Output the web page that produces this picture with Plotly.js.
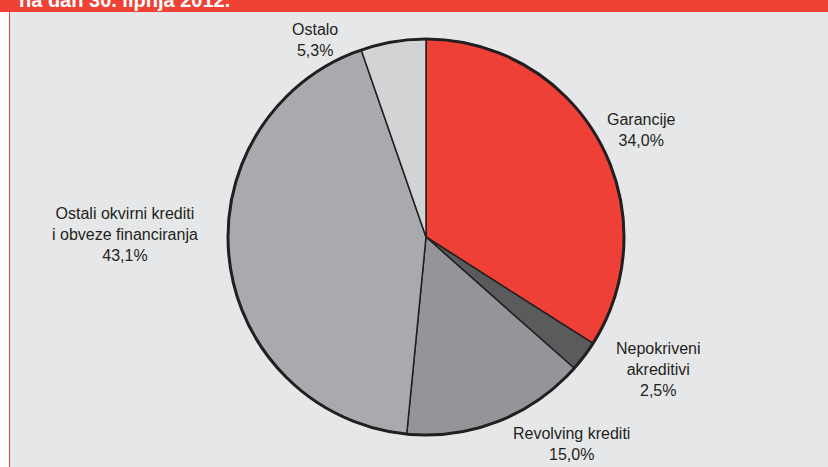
<!DOCTYPE html>
<html>
<head>
<meta charset="utf-8">
<script src="https://cdn.plot.ly/plotly-3.0.1.min.js"></script>
<style>html,body{margin:0;padding:0;background:#fff;}#chart{width:828px;height:467px;}</style>
</head>
<body>
<div id="chart"></div>
<script>
// Data
const categories = ["Garancije", "Nepokriveni akreditivi", "Revolving krediti", "Ostali okvirni krediti i obveze financiranja", "Ostalo"];
const labelLines = ["Garancije", "Nepokriveni<br>akreditivi", "Revolving krediti", "Ostali okvirni krediti<br>i obveze financiranja", "Ostalo"];
const shares = [34.0, 2.5, 15.0, 43.1, 5.3];
const sliceColors = ["#ee4036", "#5a5b5d", "#939598", "#a8aaad", "#d1d3d4"];
const titleText = "na dan 30. lipnja 2012.";

// Label positions (pixels in 828x467 frame)
const W = 828, H = 467;
const labelPos = [[641, 130], [658, 369], [571, 444], [125, 234], [315, 40]];

const fmt = v => v.toFixed(1).replace('.', ',') + '%';

const annotations = categories.map((c, i) => ({
  text: labelLines[i] + '<br>' + fmt(shares[i]),
  x: labelPos[i][0] / W, y: 1 - labelPos[i][1] / H,
  xref: 'paper', yref: 'paper', xanchor: 'center', yanchor: 'middle',
  showarrow: false, align: 'center',
  font: {family: 'Liberation Sans, Arial, sans-serif', size: 16, color: '#231f20'}
}));
annotations.push({
  text: '<b>' + titleText + '</b>',
  x: 18 / W, y: 1 - 12 / H, xref: 'paper', yref: 'paper',
  xanchor: 'left', yanchor: 'bottom', showarrow: false, borderpad: 0,
  font: {family: 'Liberation Sans, Arial, sans-serif', size: 20, color: '#ffffff'}
});

const cx = 426, cy = 237, r = 198;
const dom = {x: [(cx - r) / W, (cx + r) / W], y: [1 - (cy + r) / H, 1 - (cy - r) / H]};

const trace = {
  type: 'pie', labels: categories, values: shares, sort: false,
  direction: 'clockwise', rotation: 0, textinfo: 'none', hoverinfo: 'label+percent',
  marker: {colors: sliceColors, line: {color: '#231f20', width: 1.5}},
  domain: dom, showlegend: false
};

const layout = {
  width: W, height: H, margin: {l: 0, r: 0, t: 0, b: 0},
  paper_bgcolor: '#e6e7e8', plot_bgcolor: '#e6e7e8',
  showlegend: false,
  shapes: [
    {type: 'rect', xref: 'paper', yref: 'paper', x0: 0, x1: 1, y0: 1 - 12 / H, y1: 1, fillcolor: '#ef4136', line: {width: 0}, layer: 'below'},
    {type: 'rect', xref: 'paper', yref: 'paper', x0: 0, x1: 9 / W, y0: 0, y1: 1 - 12 / H, fillcolor: '#ffffff', line: {width: 0}, layer: 'below'},
    {type: 'line', xref: 'paper', yref: 'paper', x0: 9.5 / W, x1: 9.5 / W, y0: 0, y1: 1 - 12 / H, line: {color: '#ef4136', width: 1}, layer: 'below'},
    {type: 'circle', xref: 'paper', yref: 'paper', x0: dom.x[0], x1: dom.x[1], y0: dom.y[0], y1: dom.y[1], line: {color: '#231f20', width: 3}, layer: 'above'}
  ],
  annotations: annotations
};

Plotly.newPlot('chart', [trace], layout, {displayModeBar: false, staticPlot: true});
</script>
</body>
</html>
